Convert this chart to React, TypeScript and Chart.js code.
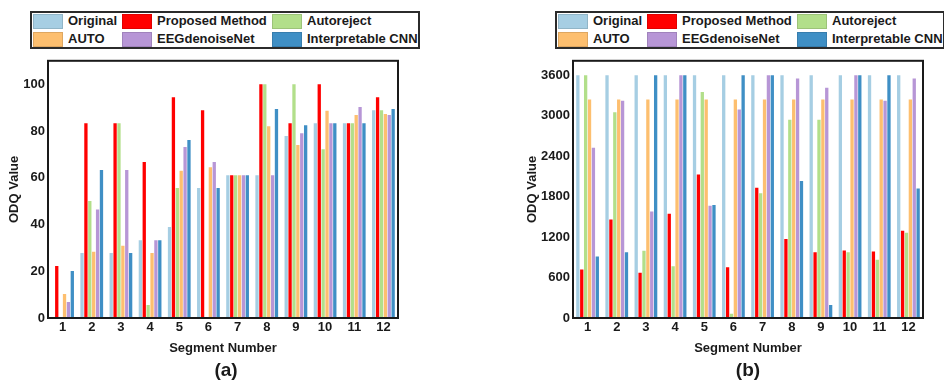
import React, { useEffect, useRef } from "react";
import { Chart, registerables } from "chart.js";

Chart.register(...registerables);

// ---------- data ----------
const segments = ["1", "2", "3", "4", "5", "6", "7", "8", "9", "10", "11", "12"];
const seriesNames = ["Original", "Proposed Method", "Autoreject", "AUTO", "EEGdenoiseNet", "Interpretable CNN"];
const seriesColors = ["#a6cee3", "#ff0000", "#b2df8a", "#fdbf6f", "#b796d6", "#3f8fc5"];

// panel (a): ODQ values in percent
const odqA_original = [0, 27.8, 27.8, 33.3, 38.9, 55.6, 61.1, 61.1, 77.8, 83.3, 83.3, 88.9];
const odqA_proposed = [22.2, 83.3, 83.3, 66.7, 94.4, 88.9, 61.1, 100, 83.3, 100, 83.3, 94.4];
const odqA_autoreject = [0, 50, 83.3, 5.6, 55.6, 0, 61.1, 100, 100, 72.2, 83.3, 88.9];
const odqA_auto = [10.3, 28.3, 30.9, 27.8, 63.0, 64.5, 61.1, 82.0, 74.0, 88.6, 86.8, 87.2];
const odqA_eegdenoisenet = [6.8, 46.4, 63.3, 33.3, 73.1, 66.7, 61.1, 61.1, 79.0, 83.3, 90.2, 86.8];
const odqA_cnn = [20.1, 63.3, 27.8, 33.3, 76.1, 55.6, 61.1, 89.4, 82.4, 83.3, 83.3, 89.4];

// panel (b): ODQ values in seconds
const odqB_original = [3600, 3600, 3600, 3600, 3600, 3600, 3600, 3600, 3600, 3600, 3600, 3600];
const odqB_proposed = [719, 1462, 670, 1545, 2128, 753, 1933, 1171, 976, 1001, 986, 1292];
const odqB_autoreject = [3600, 3051, 996, 768, 3352, 63, 1851, 2939, 2939, 976, 865, 1263];
const odqB_auto = [3240, 3240, 3240, 3240, 3240, 3240, 3240, 3240, 3240, 3240, 3240, 3240];
const odqB_eegdenoisenet = [2526, 3221, 1579, 3600, 1666, 3090, 3600, 3551, 3415, 3600, 3221, 3551];
const odqB_cnn = [913, 976, 3600, 3600, 1676, 3600, 3600, 2031, 194, 3600, 3600, 1919];

const yTicksA = [0, 20, 40, 60, 80, 100];
const yTicksB = [0, 600, 1200, 1800, 2400, 3000, 3600];

const FONT = "'Liberation Sans', Arial, Helvetica, sans-serif";
const INK = "#1a1a1a";

const boxPlugin = {
  id: "boxFrame",
  afterDraw(chart: any) {
    const { ctx, chartArea: a } = chart;
    ctx.save();
    ctx.strokeStyle = INK;
    ctx.lineWidth = 2;
    ctx.strokeRect(a.left, a.top, a.right - a.left, a.bottom - a.top);
    ctx.restore();
  },
};

type PanelProps = {
  series: number[][];
  yMax: number;
  yTicks: number[];
  width: number;
  height: number;
  yAxisWidth: number;
  titlePadTop: number;
  padTop: number;
};

function BarPanel(props: PanelProps) {
  const ref = useRef<HTMLCanvasElement | null>(null);
  useEffect(() => {
    if (!ref.current) return;
    const chart = new Chart(ref.current, {
      type: "bar",
      data: {
        labels: segments,
        datasets: props.series.map((d, i) => ({
          label: seriesNames[i],
          data: d,
          backgroundColor: seriesColors[i],
          borderWidth: 0,
          categoryPercentage: 0.8,
          barPercentage: 0.85,
        })),
      },
      options: {
        responsive: false,
        animation: false,
        layout: { padding: { top: props.padTop, right: 4, left: 0, bottom: 0 } },
        plugins: { legend: { display: false }, tooltip: { enabled: false }, title: { display: false } },
        scales: {
          x: {
            grid: { display: false, drawTicks: false },
            border: { display: false },
            ticks: {
              color: INK,
              font: { family: FONT, size: 13, weight: "bold" },
              padding: 2,
              maxRotation: 0,
              autoSkip: false,
            },
            title: {
              display: true,
              text: "Segment Number",
              color: INK,
              font: { family: FONT, size: 13, weight: "bold" },
              padding: { top: 4, bottom: 4 },
            },
            afterFit(scale: any) {
              scale.height = 42;
            },
          },
          y: {
            min: 0,
            max: props.yMax,
            grid: { display: false, drawTicks: false },
            border: { display: false },
            ticks: {
              color: INK,
              font: { family: FONT, size: 13, weight: "bold" },
              padding: 3,
              callback: (v: any) => String(v),
            },
            afterBuildTicks(scale: any) {
              scale.ticks = props.yTicks.map((v) => ({ value: v }));
            },
            title: {
              display: true,
              text: "ODQ Value",
              color: INK,
              font: { family: FONT, size: 13, weight: "bold" },
              padding: { top: props.titlePadTop, bottom: 0 },
            },
            afterFit(scale: any) {
              scale.width = props.yAxisWidth;
            },
          },
        },
      },
      plugins: [boxPlugin],
    });
    return () => chart.destroy();
  }, []);
  return (
    <canvas
      ref={ref}
      width={props.width}
      height={props.height}
      style={{ width: props.width, height: props.height, display: "block" }}
    />
  );
}

const colOffsets = [3, 92, 242];

function Legend({ left }: { left: number }) {
  return (
    <div
      style={{
        position: "absolute",
        left,
        top: 11,
        width: 386,
        height: 34,
        border: "2px solid #2b2b2b",
        background: "#fff",
      }}
    >
      {seriesNames.map((name, i) => {
        const c = i % 3;
        const r = Math.floor(i / 3);
        return (
          <div
            key={name}
            style={{
              position: "absolute",
              left: colOffsets[c] - 2,
              top: 0 + r * 18,
              height: 16,
              display: "flex",
              alignItems: "center",
              whiteSpace: "nowrap",
            }}
          >
            <span
              style={{
                display: "inline-block",
                width: 28,
                height: 13,
                background: seriesColors[i],
                border: "1px solid rgba(0,0,0,0.12)",
              }}
            />
            <span
              style={{
                marginLeft: 5,
                font: `bold 13px ${FONT}`,
                color: INK,
                lineHeight: "14px",
              }}
            >
              {name}
            </span>
          </div>
        );
      })}
    </div>
  );
}

function Caption({ text, cx }: { text: string; cx: number }) {
  return (
    <div
      style={{
        position: "absolute",
        left: cx - 40,
        width: 80,
        top: 359,
        textAlign: "center",
        font: `bold 19px ${FONT}`,
        color: INK,
        lineHeight: "22px",
      }}
    >
      {text}
    </div>
  );
}

export default function App() {
  return (
    <div
      style={{
        position: "fixed",
        left: 0,
        top: 0,
        width: 944,
        height: 383,
        background: "#fff",
        overflow: "hidden",
      }}
    >
      <Legend left={30} />
      <Legend left={555} />
      <div style={{ position: "absolute", left: 0, top: 50 }}>
        <BarPanel
          series={[odqA_original, odqA_proposed, odqA_autoreject, odqA_auto, odqA_eegdenoisenet, odqA_cnn]}
          yMax={110}
          yTicks={yTicksA}
          width={402}
          height={310}
          yAxisWidth={48}
          titlePadTop={7}
          padTop={7}
        />
      </div>
      <div style={{ position: "absolute", left: 515, top: 50 }}>
        <BarPanel
          series={[odqB_original, odqB_proposed, odqB_autoreject, odqB_auto, odqB_eegdenoisenet, odqB_cnn]}
          yMax={3814}
          yTicks={yTicksB}
          width={412}
          height={310}
          yAxisWidth={58}
          titlePadTop={10}
          padTop={6}
        />
      </div>
      <Caption text="(a)" cx={226} />
      <Caption text="(b)" cx={748} />
    </div>
  );
}
